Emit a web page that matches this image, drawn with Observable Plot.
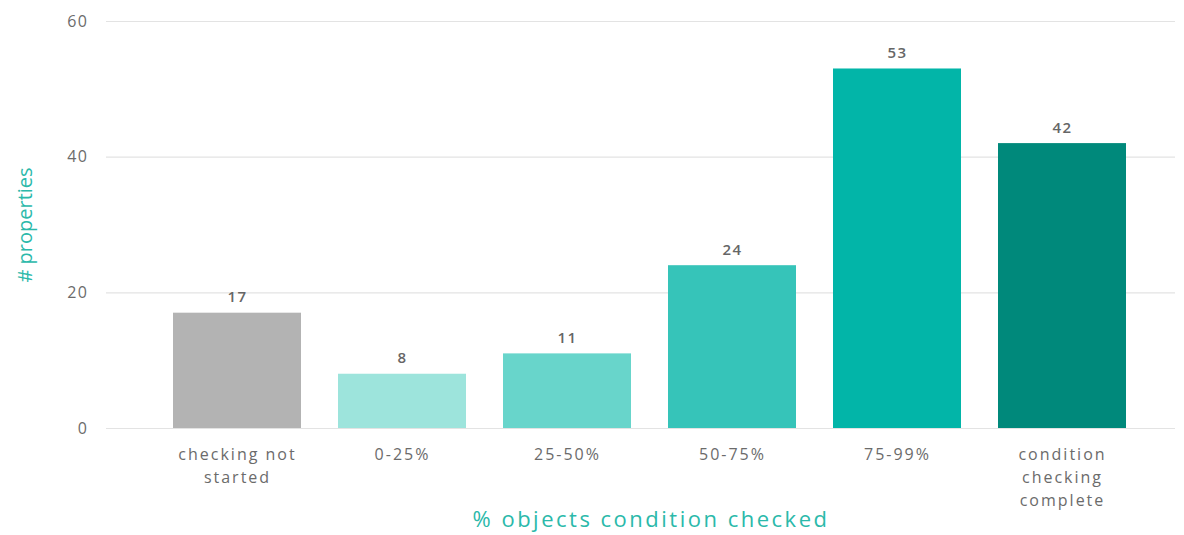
<!DOCTYPE html>
<html>
<head>
<meta charset="utf-8">
<script src="https://cdn.jsdelivr.net/npm/d3@7"></script>
<script src="https://cdn.jsdelivr.net/npm/@observablehq/plot@0.6"></script>
<style>
  html, body { margin: 0; padding: 0; background: #fff; }
  #chart { width: 1184px; height: 535px; }
  .yticks text { letter-spacing: 1.5px; }
  .xticks text { letter-spacing: 2px; }
  .values text { letter-spacing: 1.5px; }
  .xtitle text { letter-spacing: 2.5px; }
</style>
</head>
<body>
<div id="chart"></div>
<script>
// Share of objects whose condition has been checked, per property
const categories = [
  "checking not\nstarted",
  "0-25%",
  "25-50%",
  "50-75%",
  "75-99%",
  "condition\nchecking\ncomplete"
];
const counts = [17, 8, 11, 24, 53, 42];
const yTicks = [0, 20, 40, 60];
const yLabel = "# properties";
const xLabel = "% objects condition checked";

const palette = ["#b3b3b3", "#9de4dc", "#68d5cb", "#36c4b9", "#02b5a8", "#00897b"];
const teal = "#2bb9aa";
const font = "'Open Sans', sans-serif";

const rows = categories.map((c, i) => ({category: c, count: counts[i]}));

const chart = Plot.plot({
  width: 1184,
  height: 535,
  marginLeft: 106,
  marginRight: 9,
  marginTop: 21,
  marginBottom: 107,
  style: {fontFamily: font, fontSize: "15px", color: "#6b6b6b", background: "#fff"},
  x: {domain: categories, paddingInner: 0.224, paddingOuter: 0.35, align: 0.58, label: null},
  y: {domain: [0, 60], label: null},
  color: {domain: categories, range: palette},
  marks: [
    Plot.gridY(yTicks, {stroke: "#e3e3e3", strokeOpacity: 1, strokeWidth: 1.2}),
    Plot.axisY(yTicks, {tickSize: 0, tickPadding: 18, fill: "#6b6b6b", fontSize: 16, label: null, className: "yticks"}),
    Plot.axisX({tickSize: 0, tickPadding: 15, fill: "#6b6b6b", fontSize: 16, lineHeight: 1.45, label: null, className: "xticks"}),
    Plot.barY(rows, {x: "category", y: "count", fill: "category"}),
    Plot.text(rows, {
      x: "category", y: "count", text: d => String(d.count), className: "values",
      lineAnchor: "bottom", dy: -11, fill: "#666", fontSize: 15, fontWeight: 600
    }),
    Plot.text([yLabel], {
      frameAnchor: "left", rotate: -90, dx: -81, text: d => d,
      fill: teal, fontSize: 20, textAnchor: "middle"
    }),
    Plot.text([xLabel], {
      frameAnchor: "bottom", dy: 98, dx: 10, text: d => d, className: "xtitle",
      fill: teal, fontSize: 22, textAnchor: "middle"
    })
  ]
});

document.getElementById("chart").appendChild(chart);
</script>
</body>
</html>
